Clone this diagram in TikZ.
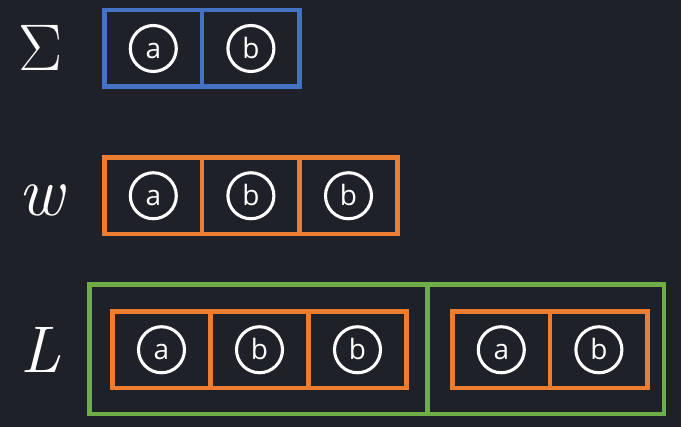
\documentclass[tikz,border=0pt]{standalone}
\usepackage{fontspec}
\newfontfamily\cellfont{Open Sans}
\usetikzlibrary{positioning}
\definecolor{bgdark}{HTML}{1E2128}
\definecolor{sigmablue}{HTML}{4472C4}
\definecolor{wordorange}{HTML}{ED7D31}
\definecolor{langgreen}{HTML}{70AD47}
\tikzset{
	cell/.style={draw, line width=4.5pt, minimum width=97.6pt, minimum height=76.5pt, inner sep=0pt, outer sep=0pt},
	sym/.style={circle, draw=white, line width=3.1pt, minimum size=46pt, inner sep=0pt, text height=20pt, text depth=0pt, text=white, font=\cellfont\fontsize{28}{28}\selectfont},
	setname/.style={text=white, inner sep=0pt, font=\fontsize{66}{66}\selectfont}
}

\begin{document}
\begin{tikzpicture}[x=1pt,y=-1pt]
	\fill[bgdark] (0,0) rectangle (681,427);
	\useasboundingbox (0,0) rectangle (681,427);

	% alphabet
	\node[setname] (sigma) at (41,47.5) {Σ};
	\node[cell, draw=sigmablue] (s1) at (153.3,48.5) {};
	\node[cell, draw=sigmablue, right=0pt of s1] (s2) {};
	\node[sym] at (s1) {a};
	\node[sym] at (s2) {b};

	% word
	\node[setname, font=\fontsize{70}{70}\selectfont\itshape] (word) at (41,200) {w};
	\node[cell, draw=wordorange] (w1) at (153.3,195.75) {};
	\node[cell, draw=wordorange, right=0pt of w1] (w2) {};
	\node[cell, draw=wordorange, right=0pt of w2] (w3) {};
	\node[sym] at (w1) {a};
	\node[sym] at (w2) {b};
	\node[sym] at (w3) {b};

	% language
	\node[setname, font=\fontsize{66}{66}\selectfont\itshape] (lang) at (41,350) {L};
	\draw[langgreen, line width=4.5pt] (89.7,284.3) rectangle (664,414);
	\draw[langgreen, line width=4.5pt] (427.5,284.3) -- (427.5,414);

	\node[cell, draw=wordorange, minimum width=98pt] (l1) at (161.5,349.75) {};
	\node[cell, draw=wordorange, minimum width=98pt, right=0pt of l1] (l2) {};
	\node[cell, draw=wordorange, minimum width=98pt, right=0pt of l2] (l3) {};
	\node[sym] at (l1) {a};
	\node[sym] at (l2) {b};
	\node[sym] at (l3) {b};

	\node[cell, draw=wordorange] (m1) at (501.3,349.75) {};
	\node[cell, draw=wordorange, right=0pt of m1] (m2) {};
	\node[sym] at (m1) {a};
	\node[sym] at (m2) {b};
\end{tikzpicture}
\end{document}
